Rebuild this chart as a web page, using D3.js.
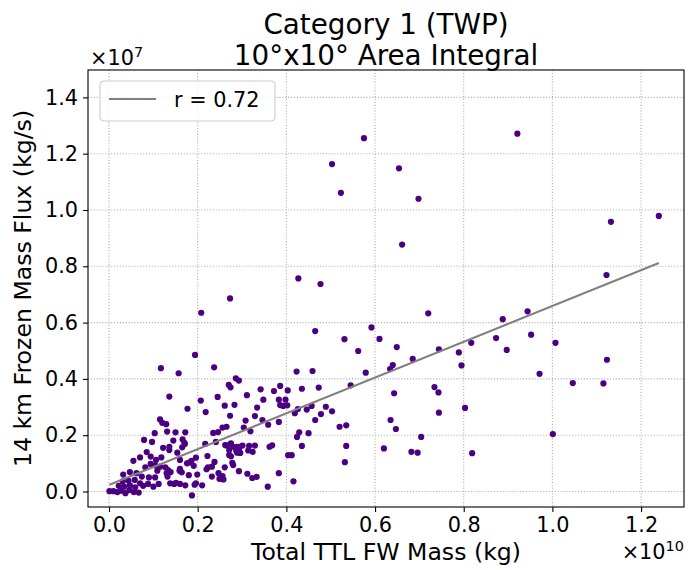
<!DOCTYPE html>
<html>
<head>
<meta charset="utf-8">
<script src="https://cdn.jsdelivr.net/npm/d3@7"></script>
<style>
  html, body { margin: 0; padding: 0; background: #fff; }
  svg { display: block; font-family: "DejaVu Sans", sans-serif; }
</style>
</head>
<body>
<svg id="chart" width="688" height="570"></svg>
<script>
// Total TTL frozen-water mass, in units of 1e10 kg
const totalMass = [
  0.575, 0.503, 0.523, 0.921, 0.654, 0.698, 0.661, 1.132, 1.240, 1.122,
  0.427, 0.477, 0.273, 0.208, 0.194, 0.117, 0.157, 0.237, 0.286, 0.270,
  0.274, 0.720, 0.944, 0.888, 0.610, 0.649, 0.873, 0.817, 0.952, 1.007,
  0.744, 0.897, 0.789, 0.685, 0.640, 0.634, 0.795, 1.123, 0.971, 1.046,
  1.115, 0.734, 0.743, 0.643, 0.744, 0.803, 0.635, 0.647, 0.704, 1.001,
  0.620, 0.682, 0.696, 0.819, 0.592, 0.465, 0.531, 0.562, 0.423, 0.459,
  0.579, 0.293, 0.545, 0.473, 0.435, 0.342, 0.372, 0.386, 0.403, 0.311,
  0.348, 0.383, 0.398, 0.283, 0.386, 0.393, 0.402, 0.334, 0.426, 0.446,
  0.457, 0.489, 0.503, 0.478, 0.419, 0.273, 0.329, 0.465, 0.308, 0.346,
  0.383, 0.359, 0.304, 0.319, 0.520, 0.535, 0.429, 0.450, 0.424, 0.275,
  0.280, 0.288, 0.294, 0.301, 0.316, 0.329, 0.287, 0.293, 0.296, 0.275,
  0.278, 0.314, 0.324, 0.362, 0.368, 0.435, 0.535, 0.404, 0.412, 0.532,
  0.293, 0.312, 0.323, 0.333, 0.383, 0.416, 0.358, 0.136, 0.177, 0.207,
  0.218, 0.245, 0.261, 0.115, 0.120, 0.129, 0.103, 0.131, 0.150, 0.172,
  0.235, 0.246, 0.256, 0.265, 0.079, 0.097, 0.145, 0.166, 0.171, 0.165,
  0.122, 0.136, 0.085, 0.217, 0.241, 0.264, 0.222, 0.238, 0.154, 0.160,
  0.055, 0.070, 0.094, 0.106, 0.118, 0.082, 0.094, 0.104, 0.115, 0.127,
  0.133, 0.139, 0.109, 0.032, 0.047, 0.062, 0.074, 0.090, 0.104, 0.088,
  0.100, 0.112, 0.147, 0.160, 0.172, 0.193, 0.187, 0.210, 0.232, 0.249,
  0.256, 0.261, 0.220, 0.199, 0.010, 0.019, 0.028, 0.037, 0.046, 0.022,
  0.034, 0.047, 0.059, 0.070, 0.058, 0.044, 0.031, 0.077, 0.056, 0.067,
  0.001, 0.196, 0.186, 0.176, 0.181, 0.191, 0.160, 0.164, 0.159, 0.180,
  0.130, 0.132, 0.138, 0.151, 0.196, 0.232, 0.223, 0.247, 0.258, 0.262,
  0.274, 0.271, 0.289, 0.271, 0.280, 0.170, 0.136
];

// 14 km frozen mass flux, in units of 1e7 kg/s
const frozenFlux = [
  1.255, 1.163, 1.061, 1.271, 1.148, 1.040, 0.877, 0.958, 0.979, 0.769,
  0.757, 0.737, 0.686, 0.635, 0.485, 0.438, 0.420, 0.441, 0.402, 0.379,
  0.370, 0.633, 0.640, 0.612, 0.542, 0.513, 0.545, 0.528, 0.557, 0.528,
  0.505, 0.503, 0.494, 0.471, 0.449, 0.435, 0.448, 0.468, 0.418, 0.385,
  0.384, 0.371, 0.352, 0.349, 0.280, 0.297, 0.254, 0.222, 0.194, 0.204,
  0.153, 0.141, 0.138, 0.136, 0.583, 0.570, 0.541, 0.499, 0.426, 0.428,
  0.422, 0.394, 0.377, 0.369, 0.365, 0.363, 0.357, 0.375, 0.359, 0.342,
  0.326, 0.326, 0.326, 0.308, 0.307, 0.304, 0.306, 0.298, 0.293, 0.291,
  0.304, 0.301, 0.285, 0.275, 0.278, 0.269, 0.268, 0.254, 0.252, 0.254,
  0.247, 0.237, 0.227, 0.214, 0.230, 0.235, 0.210, 0.207, 0.194, 0.171,
  0.159, 0.159, 0.159, 0.163, 0.162, 0.163, 0.145, 0.147, 0.137, 0.125,
  0.102, 0.146, 0.141, 0.159, 0.164, 0.162, 0.162, 0.129, 0.129, 0.104,
  0.072, 0.063, 0.048, 0.052, 0.065, 0.036, 0.017, 0.337, 0.294, 0.323,
  0.282, 0.336, 0.305, 0.256, 0.244, 0.239, 0.207, 0.213, 0.210, 0.210,
  0.208, 0.211, 0.227, 0.230, 0.183, 0.176, 0.181, 0.185, 0.169, 0.157,
  0.155, 0.147, 0.140, 0.169, 0.176, 0.164, 0.126, 0.105, 0.138, 0.112,
  0.109, 0.121, 0.124, 0.112, 0.121, 0.086, 0.098, 0.093, 0.088, 0.086,
  0.076, 0.069, 0.074, 0.060, 0.069, 0.065, 0.053, 0.050, 0.050, 0.027,
  0.017, 0.027, 0.027, 0.027, 0.022, 0.024, -0.014, 0.022, 0.053, 0.045,
  0.055, 0.086, 0.079, 0.060, 0.001, -0.002, 0.003, -0.006, 0.005, 0.020,
  0.017, 0.022, 0.015, 0.029, 0.041, 0.038, 0.036, 0.020, -0.002, -0.004,
  0.001, 0.120, 0.109, 0.100, 0.103, 0.091, 0.080, 0.068, 0.074, 0.058,
  0.065, 0.053, 0.029, 0.031, 0.029, 0.088, 0.086, 0.065, 0.043, 0.165,
  0.168, 0.147, 0.138, 0.130, 0.094, 0.173, 0.159
];

// Least-squares fit (same scaled units) and its correlation coefficient
const fitIntercept = 0.023;
const fitSlope = 0.636;
const corrR = 0.72;

const xTicks = [0.0, 0.2, 0.4, 0.6, 0.8, 1.0, 1.2];
const yTicks = [0.0, 0.2, 0.4, 0.6, 0.8, 1.0, 1.2, 1.4];
const xDomain = [-0.0474, 1.2968];
const yDomain = [-0.0551, 1.4973];

const titleLines = ["Category 1 (TWP)", "10°x10° Area Integral"];
const xLabel = "Total TTL FW Mass (kg)";
const yLabel = "14 km Frozen Mass Flux (kg/s)";

const points = totalMass.map((m, i) => ({ x: m, y: frozenFlux[i] }));

const svg = d3.select("#chart");
const margin = { left: 88, right: 4, top: 70, bottom: 63 };
const W = 688, H = 570;
const pw = W - margin.left - margin.right;
const ph = H - margin.top - margin.bottom;

const x = d3.scaleLinear().domain(xDomain).range([0, pw]);
const y = d3.scaleLinear().domain(yDomain).range([ph, 0]);

const g = svg.append("g").attr("transform", `translate(${margin.left},${margin.top})`);

// dotted grid
const grid = g.append("g").attr("class", "grid");
grid.selectAll("line.gx").data(xTicks).join("line")
  .attr("x1", d => x(d)).attr("x2", d => x(d))
  .attr("y1", 0).attr("y2", ph);
grid.selectAll("line.gy").data(yTicks).join("line")
  .attr("y1", d => y(d)).attr("y2", d => y(d))
  .attr("x1", 0).attr("x2", pw);
grid.selectAll("line")
  .attr("stroke", "#b0b0b0").attr("stroke-width", 1.1)
  .attr("stroke-dasharray", "1.1,1.8");

// scatter points
g.append("g").selectAll("circle").data(points).join("circle")
  .attr("cx", d => x(d.x)).attr("cy", d => y(d.y))
  .attr("r", 3.1).attr("fill", "#4b0082");

// regression line across the data range
const xr = d3.extent(totalMass);
g.append("line")
  .attr("x1", x(xr[0])).attr("y1", y(fitIntercept + fitSlope * xr[0]))
  .attr("x2", x(xr[1])).attr("y2", y(fitIntercept + fitSlope * xr[1]))
  .attr("stroke", "#808080").attr("stroke-width", 2.1);

// axes
const fmt = d3.format(".1f");
const xAxis = g.append("g").attr("transform", `translate(0,${ph})`)
  .call(d3.axisBottom(x).tickValues(xTicks).tickFormat(fmt).tickSize(5).tickPadding(5));
const yAxis = g.append("g")
  .call(d3.axisLeft(y).tickValues(yTicks).tickFormat(fmt).tickSize(5).tickPadding(5));
[xAxis, yAxis].forEach(a => {
  a.select(".domain").remove();
  a.selectAll(".tick line").attr("stroke", "#000").attr("stroke-width", 1.1);
  a.selectAll(".tick text").attr("font-size", 20.8).attr("fill", "#000")
    .attr("font-family", "DejaVu Sans");
});

// frame
g.append("rect").attr("width", pw).attr("height", ph)
  .attr("fill", "none").attr("stroke", "#000").attr("stroke-width", 1.1);

// axis labels
svg.append("text").attr("x", margin.left + pw / 2).attr("y", 560)
  .attr("text-anchor", "middle").attr("font-size", 23.6).text(xLabel);
svg.append("text")
  .attr("transform", `translate(31,${margin.top + ph / 2}) rotate(-90)`)
  .attr("text-anchor", "middle").attr("font-size", 23.6).text(yLabel);

// offset multipliers
const off7 = svg.append("text").attr("x", margin.left + 2).attr("y", 65).attr("font-size", 20.8);
off7.append("tspan").text("×10");
off7.append("tspan").attr("font-size", 14.5).attr("dy", -8).text("7");
const off10 = svg.append("text").attr("x", margin.left + pw).attr("y", 559)
  .attr("text-anchor", "end").attr("font-size", 20.8);
off10.append("tspan").text("×10");
off10.append("tspan").attr("font-size", 14.5).attr("dy", -8).text("10");

// title
svg.selectAll("text.title").data(titleLines).join("text")
  .attr("class", "title")
  .attr("x", margin.left + pw / 2).attr("y", (d, i) => 34 + i * 31)
  .attr("text-anchor", "middle").attr("font-size", 27.8).text(d => d);

// legend
const lg = g.append("g").attr("transform", "translate(12,11)");
lg.append("rect").attr("width", 175).attr("height", 40).attr("rx", 4)
  .attr("fill", "#fff").attr("fill-opacity", 0.8)
  .attr("stroke", "#cccccc").attr("stroke-width", 1.1);
lg.append("line").attr("x1", 9).attr("x2", 56).attr("y1", 18).attr("y2", 18)
  .attr("stroke", "#808080").attr("stroke-width", 2.1);
lg.append("text").attr("x", 74).attr("y", 26).attr("font-size", 20.8)
  .text(`r = ${corrR.toFixed(2)}`);
</script>
</body>
</html>
